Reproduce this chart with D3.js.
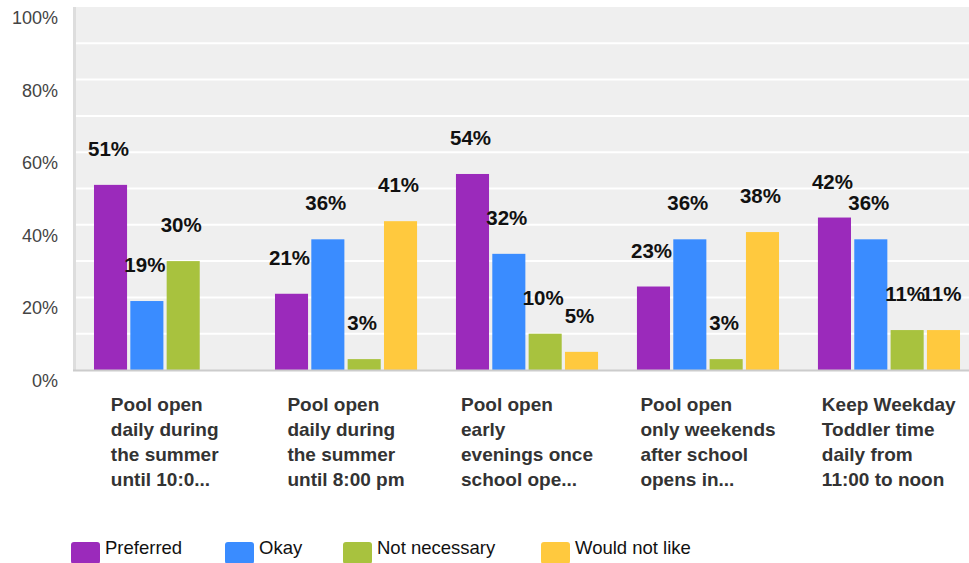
<!DOCTYPE html>
<meta charset="utf-8">
<style>
body { margin: 0; background: #fff; }
svg text { font-family: "Liberation Sans", Arial, sans-serif; }
</style>
<svg width="969" height="563"></svg>
<script src="https://d3js.org/d3.v7.min.js"></script>
<script>

var categories = [
  ["Pool open", "daily during", "the summer", "until 10:0..."],
  ["Pool open", "daily during", "the summer", "until 8:00 pm"],
  ["Pool open", "early", "evenings once", "school ope..."],
  ["Pool open", "only weekends", "after school", "opens in..."],
  ["Keep Weekday", "Toddler time", "daily from", "11:00 to noon"]
];
var series = ["Preferred", "Okay", "Not necessary", "Would not like"];
var colors = ["#9b2abb", "#3a8cff", "#a8c23e", "#ffc93e"];

// percent per category, order follows series (null = no bar)
var preferred = [51, 21, 54, 23, 42];
var okay      = [19, 36, 32, 36, 36];
var notNeeded = [30, 3, 10, 3, 11];
var wouldNot  = [null, 41, 5, 38, 11];

var yTicks = [0, 20, 40, 60, 80, 100];
var yGrid = d3.range(0, 101, 10);

var values = [preferred, okay, notNeeded, wouldNot];

var svg = d3.select("svg");

// plot box (note: "top" is reserved on window, so use plotTop)
var plotLeft = 76, plotRight = 978, plotTop = 7, plotBottom = 370;

var x0 = d3.scaleBand()
  .domain(d3.range(categories.length))
  .range([plotLeft, plotRight])
  .paddingInner(0.215)
  .paddingOuter(0.0994);

var x1 = d3.scaleBand()
  .domain(d3.range(series.length))
  .range([0, x0.bandwidth()])
  .paddingInner(0.09);

var y = d3.scaleLinear().domain([0, 100]).range([plotBottom, plotTop]);

// plot background
svg.append("rect")
  .attr("x", plotLeft).attr("y", plotTop)
  .attr("width", 969 - plotLeft).attr("height", plotBottom - plotTop)
  .attr("fill", "#efefef");

// gridlines
svg.append("g").selectAll("line")
  .data(yGrid.filter(function(d) { return d > 0 && d < 100; }))
  .enter().append("line")
  .attr("x1", plotLeft).attr("x2", 969)
  .attr("y1", function(d) { return y(d); })
  .attr("y2", function(d) { return y(d); })
  .attr("stroke", "#fff")
  .attr("stroke-width", 2);

// y tick labels (sit just below their gridline)
svg.append("g").selectAll("text")
  .data(yTicks)
  .enter().append("text")
  .attr("x", 58)
  .attr("y", function(d) { return y(d) + 17; })
  .attr("text-anchor", "end")
  .attr("font-size", "18px")
  .attr("fill", "#444")
  .text(function(d) { return d + "%"; });

// bars
var groups = svg.append("g").selectAll("g")
  .data(categories)
  .enter().append("g")
  .attr("transform", function(d, i) { return "translate(" + x0(i) + ",0)"; });

var cells = groups.selectAll("g")
  .data(function(d, i) {
    return series.map(function(s, j) { return { s: j, v: values[j][i] }; })
      .filter(function(c) { return c.v != null; });
  })
  .enter().append("g");

cells.append("rect")
  .attr("x", function(d) { return x1(d.s); })
  .attr("y", function(d) { return y(d.v); })
  .attr("width", x1.bandwidth())
  .attr("height", function(d) { return plotBottom - y(d.v); })
  .attr("fill", function(d) { return colors[d.s]; });

cells.append("text")
  .attr("x", function(d) { return x1(d.s) + x1.bandwidth() / 2 - 2; })
  .attr("y", function(d) { return y(d.v) - 29; })
  .attr("text-anchor", "middle")
  .attr("font-size", "20.5px")
  .attr("font-weight", "bold")
  .attr("fill", "#111")
  .text(function(d) { return d.v + "%"; });

// axis lines
svg.append("line")
  .attr("x1", plotLeft - 1.5).attr("x2", plotLeft - 1.5)
  .attr("y1", plotTop).attr("y2", plotBottom + 1)
  .attr("stroke", "#ddd").attr("stroke-width", 3);
svg.append("line")
  .attr("x1", plotLeft - 3).attr("x2", 969)
  .attr("y1", plotBottom + 0.5).attr("y2", plotBottom + 0.5)
  .attr("stroke", "#ccc").attr("stroke-width", 2);

// category labels: left-aligned lines, block centred under group
var catLabels = svg.append("g").selectAll("g")
  .data(categories)
  .enter().append("g");

catLabels.each(function(lines, i) {
  var g = d3.select(this);
  var t = g.append("text")
    .attr("font-size", "19px")
    .attr("font-weight", "bold")
    .attr("fill", "#333");
  t.selectAll("tspan")
    .data(lines)
    .enter().append("tspan")
    .attr("x", 0)
    .attr("y", function(d, k) { return 411 + k * 25; })
    .text(function(d) { return d; });
  var w = t.node().getBBox().width;
  g.attr("transform", "translate(" + (x0(i) + x0.bandwidth() / 2 - w / 2) + ",0)");
});

// legend
var legendX = [71, 225, 343, 541];
var legend = svg.append("g").selectAll("g")
  .data(series)
  .enter().append("g")
  .attr("transform", function(d, i) { return "translate(" + legendX[i] + ",542)"; });

legend.append("rect")
  .attr("width", 29).attr("height", 22)
  .attr("rx", 3)
  .attr("fill", function(d, i) { return colors[i]; });

legend.append("text")
  .attr("x", 34)
  .attr("y", 7)
  .attr("dominant-baseline", "middle")
  .attr("font-size", "18.5px")
  .attr("fill", "#111")
  .text(function(d) { return d; });

</script>
